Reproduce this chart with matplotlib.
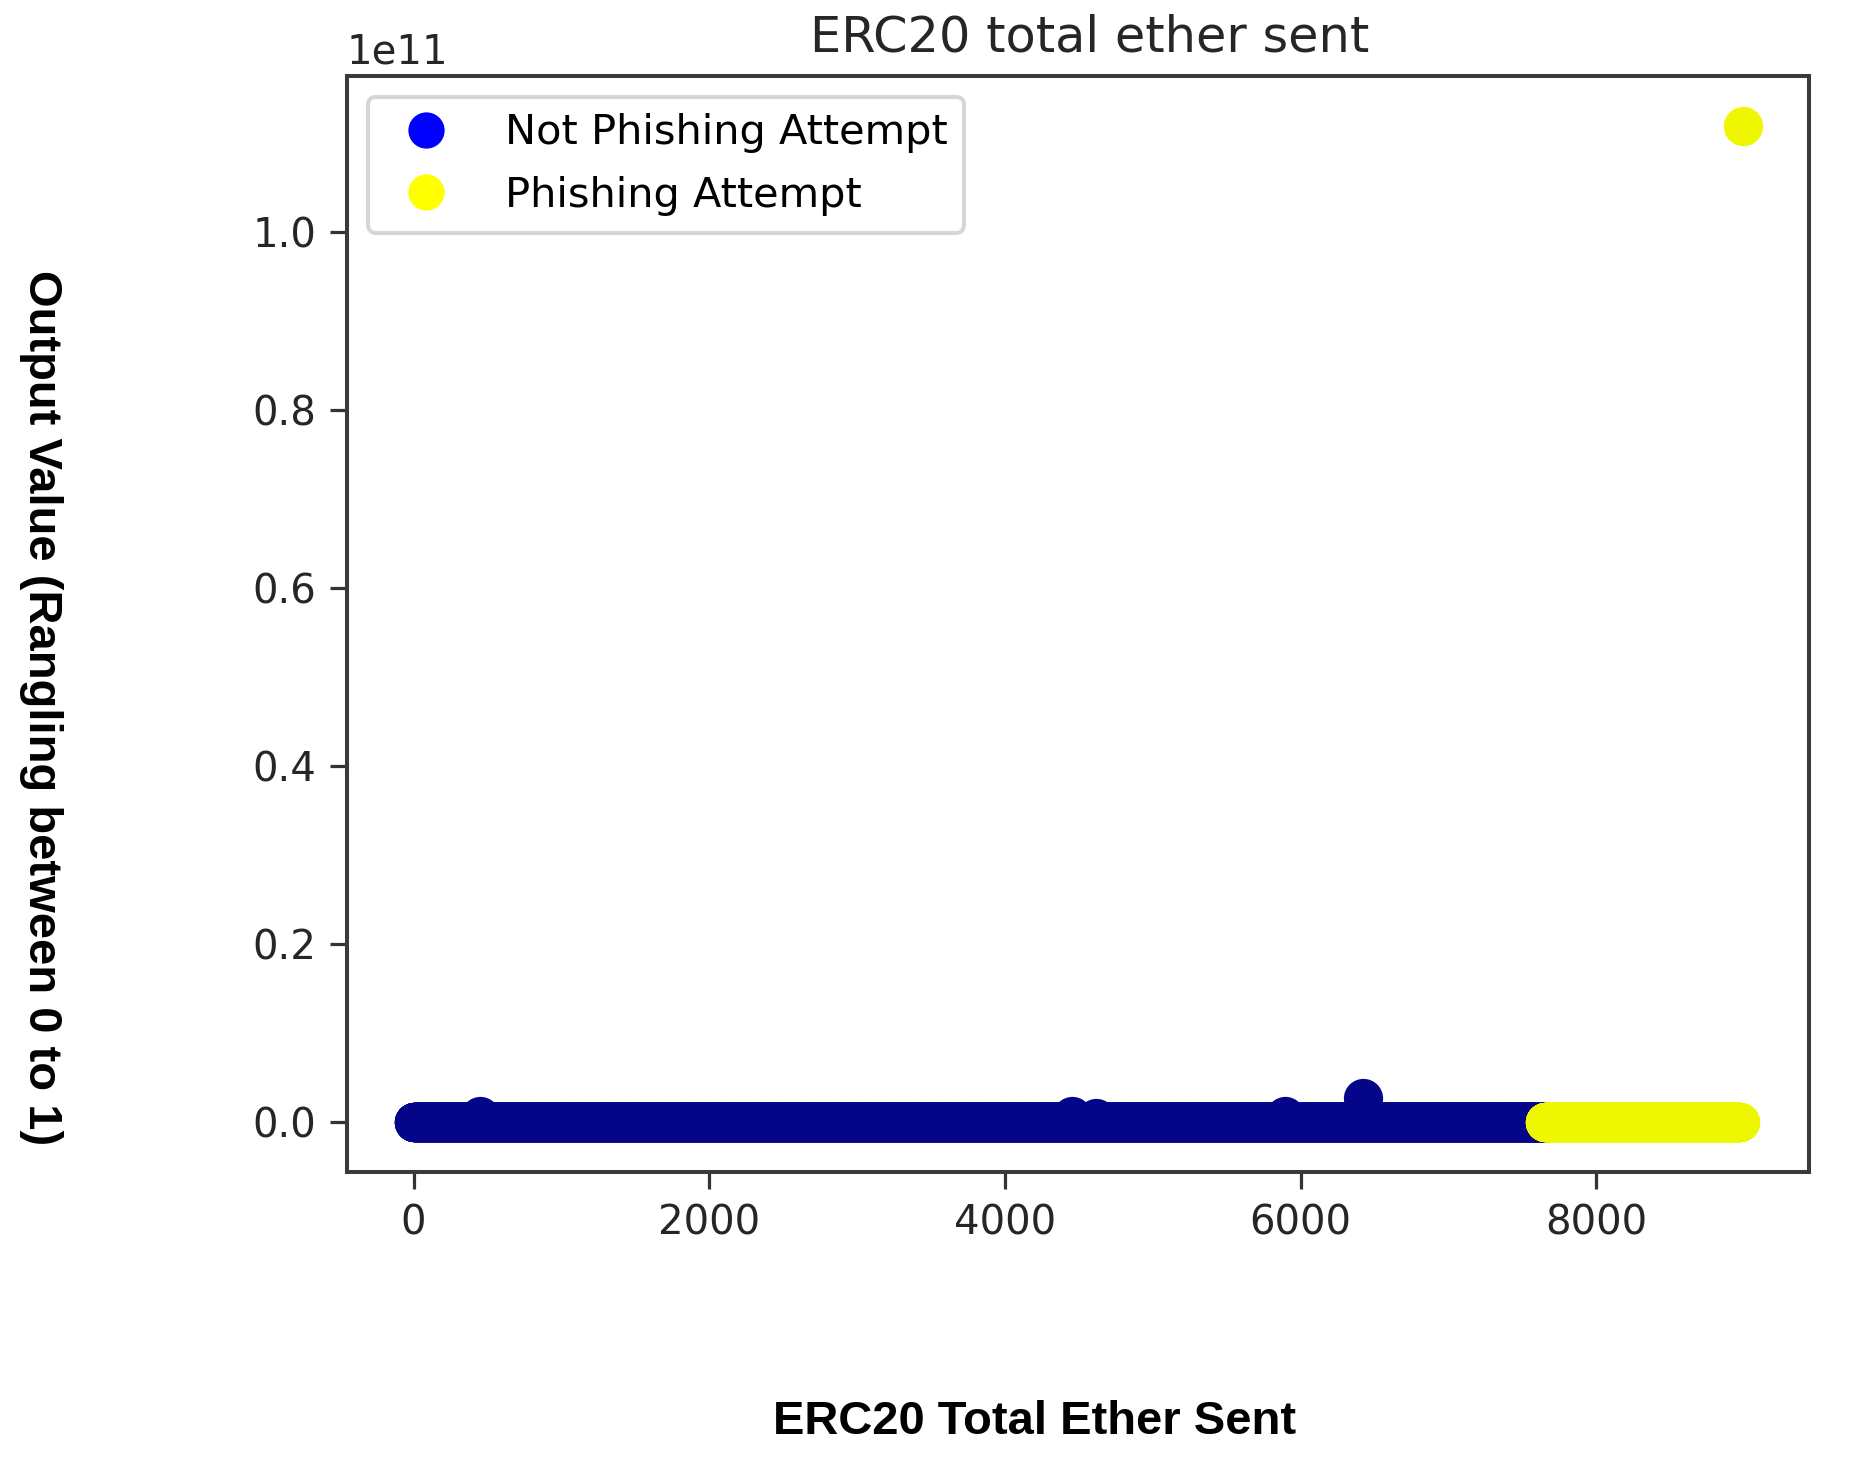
import numpy as np
import matplotlib
matplotlib.use("Agg")
import matplotlib.pyplot as plt
from matplotlib.lines import Line2D

# ---- data ----
n_not_phishing = 7650          # rows labelled "Not Phishing Attempt" (index 0 .. n-1)
n_phishing = 1320              # rows labelled "Phishing Attempt" follow
# non-zero values spotted among the non-phishing rows: (row index, value)
not_phish_outlier_idx = [449, 2564, 3910, 4455, 4615, 4923, 5897, 6423, 6423]
not_phish_outlier_val = [0.007e11, 0.001e11, 0.001e11, 0.007e11, 0.005e11, 0.001e11, 0.007e11, 0.027e11, 0.015e11]
# non-zero values among phishing rows
phish_outlier_idx = [8990]
phish_outlier_val = [1.12e11]

labels = ["Not Phishing Attempt", "Phishing Attempt"]
title = "ERC20 total ether sent"
xlabel = "ERC20 Total Ether Sent"
ylabel = "Output Value (Rangling between 0 to 1)"

# ---- build series ----
x_not = np.arange(n_not_phishing)
y_not = np.zeros(n_not_phishing)
x_ph = np.arange(n_not_phishing, n_not_phishing + n_phishing)
y_ph = np.zeros(n_phishing)

DPI = 290
fig = plt.figure(figsize=(1850 / DPI, 1458 / DPI), dpi=DPI)
ax = fig.add_axes([0.1876, 0.196, 0.978 - 0.1876, 0.948 - 0.196])

S = 95
ax.scatter(x_not, y_not, s=S, color="#05058a", linewidths=0)
ax.scatter(not_phish_outlier_idx, not_phish_outlier_val, s=S, color="#05058a", linewidths=0)
ax.scatter(x_ph, y_ph, s=S, color="#eef700", linewidths=0)
ax.scatter(phish_outlier_idx, phish_outlier_val, s=S, color="#eef700", linewidths=0)

ax.set_xticks([0, 2000, 4000, 6000, 8000])
ax.set_yticks([0, 0.2e11, 0.4e11, 0.6e11, 0.8e11, 1.0e11])
ax.tick_params(labelsize=10, colors="#333333", labelcolor="#262626", length=4.2)
for sp in ax.spines.values():
    sp.set_color("#3a3a3a")
    sp.set_linewidth(1.0)

ax.set_title(title, fontsize=12.25, color="#262626", pad=6, x=0.508)

handles = [Line2D([], [], marker="o", linestyle="", color="#0000ff", markersize=8),
           Line2D([], [], marker="o", linestyle="", color="#ffff00", markersize=8)]
ax.legend(handles, labels, loc="upper left", fontsize=10.3, frameon=True,
          handletextpad=0.9, borderpad=0.4, labelspacing=0.55)

fig.text(1035 / 1850, 1 - 1422 / 1458, xlabel, ha="center", va="center",
         fontsize=11.7, fontweight="bold", family="Liberation Sans")
fig.text(41 / 1850, 1 - 708 / 1458, ylabel, ha="center", va="center", rotation=-90,
         fontsize=11.7, fontweight="bold", family="Liberation Sans")

fig.savefig("out.png", dpi=DPI)
